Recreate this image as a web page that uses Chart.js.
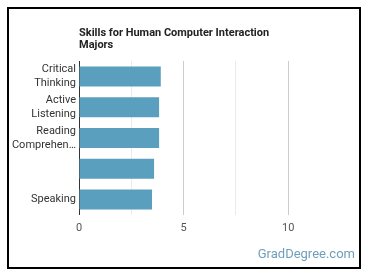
<!DOCTYPE html>
<html>
<head>
<meta charset="utf-8">
<script src="https://cdn.jsdelivr.net/npm/chart.js@4"></script>
<style>
  body { margin: 0; background: #fff; font-family: Roboto, sans-serif; }
  #wrap { position: relative; width: 370px; height: 278px; }
  #frame { position: absolute; left: 7px; top: 7px; width: 350px; height: 258px; border: 2px solid #000; }
  #title { position: absolute; left: 79px; top: 27px; font-size: 11px; font-weight: bold; line-height: 12px; color: #222; }
  #brand { position: absolute; right: 15px; top: 246px; font-size: 13px; color: #6d9fbb; }
  canvas { position: absolute; left: 0; top: 0; }
</style>
</head>
<body>
<div id="wrap">
  <div id="frame"></div>
  <canvas id="myChart" width="370" height="278"></canvas>
  <div id="title">Skills for Human Computer Interaction<br>Majors</div>
  <div id="brand">GradDegree.com</div>
</div>
<script>
// skill names (wrapped the same way as the picture)
var skills = [['Critical', 'Thinking'], ['Active', 'Listening'], ['Reading', 'Comprehen…'], '', 'Speaking'];
// skill level per skill
var levels = [3.91, 3.83, 3.83, 3.59, 3.49];
// labelled ticks on the value axis
var tickLabels = [0, 5, 10];

function renderChart() {
    var ctx = document.getElementById('myChart').getContext('2d');

    new Chart(ctx, {
        type: 'bar',
        data: {
            labels: skills,
            datasets: [{
                label: 'Skill level',
                data: levels,
                backgroundColor: '#5b9fbe',
                barPercentage: 0.65,
                categoryPercentage: 1
            }]
        },
        options: {
            indexAxis: 'y',
            responsive: false,
            animation: false,
            layout: { padding: { left: 8, top: 61, right: 40, bottom: 42 } },
            plugins: { legend: { display: false }, tooltip: { enabled: false } },
            scales: {
                x: {
                    min: 0,
                    max: 12,
                    border: { display: false },
                    grid: {
                        drawTicks: false,
                        color: function (c) {
                            var v = c.tick ? c.tick.value : null;
                            if (v === 0) return '#333';
                            if (v % 2.5 !== 0) return 'rgba(0,0,0,0)';
                            return v % 5 === 0 ? '#cccccc' : '#ebebeb';
                        }
                    },
                    ticks: {
                        stepSize: 2.5,
                        padding: 7,
                        color: '#555',
                        font: { family: 'Roboto', size: 11 },
                        callback: function (v) { return tickLabels.indexOf(v) >= 0 ? String(v) : ''; }
                    },
                    afterFit: function (s) { s.height = 21; }
                },
                y: {
                    border: { display: false },
                    grid: { display: false, drawTicks: false },
                    ticks: {
                        autoSkip: false,
                        padding: 3,
                        color: '#333',
                        font: { family: 'Roboto', size: 11, lineHeight: 1.28 }
                    },
                    afterFit: function (s) { s.width = 71; }
                }
            }
        }
    });
}

renderChart();
</script>
</body>
</html>
